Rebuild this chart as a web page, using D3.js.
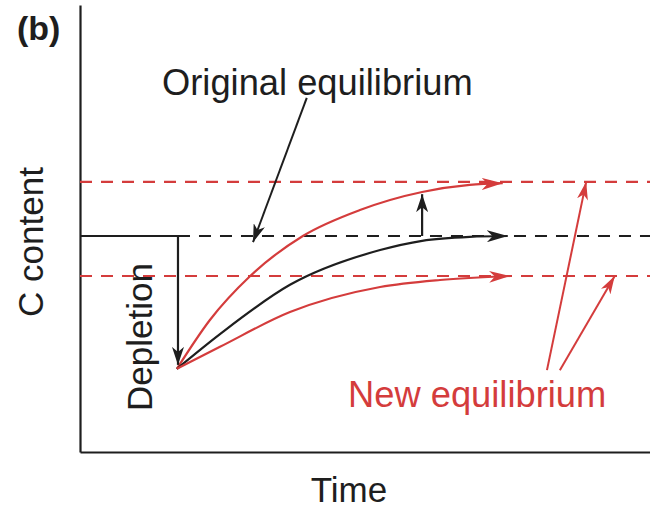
<!DOCTYPE html>
<html><head><meta charset="utf-8">
<script src="https://cdn.jsdelivr.net/npm/d3@7"></script>
<style>html,body{margin:0;padding:0;background:#fff}svg{display:block}text{font-family:"Liberation Sans",Arial,Helvetica,sans-serif}</style>
</head><body><svg id="c" width="650" height="508"></svg>
<script>
// ---- data (time, C content), conceptual units ----
const levels = [
  {name:"newHigh", c:61.4, color:"red"},
  {name:"original", c:49.1, color:"black"},
  {name:"newLow", c:40.0, color:"red"}
];
const disturbanceTime = 17.5;
const depletedC = 18.9;
const preDisturbance = [[0,49.1],[17.5,49.1]];
const curveHigh = [[17.3,18.9],[23.2,30.0],[30.4,40.0],[39.8,49.1],[50.0,55.0],[61.1,59.1],[69.6,60.7],[75.5,61.1]];
const curveOrig = [[17.3,18.9],[25.0,26.8],[37.5,38.0],[53.6,45.9],[61.1,48.0],[69.6,48.9],[76.4,49.1]];
const curveLow  = [[17.3,18.9],[25.0,23.9],[37.5,31.8],[53.6,37.5],[64.3,39.1],[76.8,40.0]];
const depletionArrow = [[17.5,49.1],[17.5,19.8]];
const gainArrow = [[61.1,49.1],[61.1,58.6]];
const origLabelArrow = [[40.5,80.5],[30.9,47.7]];
const newLabelArrows = [ [[83.4,18.6],[90.4,61.4]], [[85.7,18.6],[95.5,40.0]] ];
const labels = {panel:"(b)", y:"C content", x:"Time", depletion:"Depletion", orig:"Original equilibrium", neu:"New equilibrium"};

const RED = "#d43c3c", BLK = "#1e1e1e";
const colorOf = k => k === "red" ? RED : BLK;

const svg = d3.select("#c");
const x = d3.scaleLinear().domain([0,101.8]).range([80,650]);
const y = d3.scaleLinear().domain([0,101.6]).range([452,5]);

// markers
const defs = svg.append("defs");
function marker(id, color, len, wid){
  defs.append("marker").attr("id",id).attr("markerUnits","userSpaceOnUse")
    .attr("viewBox",`${-len} ${-wid/2} ${len+1} ${wid}`)
    .attr("refX",0).attr("refY",0).attr("markerWidth",len+1).attr("markerHeight",wid)
    .attr("orient","auto")
    .append("path").attr("d",`M0,0L${-len},${-wid/2}L${-len*0.72},0L${-len},${wid/2}Z`).attr("fill",color);
}
marker("aB", BLK, 21, 12);
marker("aR", RED, 21, 12);
marker("aBs", BLK, 18, 12);
marker("aRs", RED, 18, 11);

// axes (no ticks)
svg.append("g").attr("transform",`translate(0,${y(0)})`)
  .call(d3.axisBottom(x).tickValues([]).tickSizeOuter(0))
  .select(".domain").attr("stroke",BLK).attr("stroke-width",2.2);
svg.append("g").attr("transform",`translate(${x(0)},0)`)
  .call(d3.axisLeft(y).tickValues([]).tickSizeOuter(0))
  .select(".domain").attr("stroke",BLK).attr("stroke-width",2.2);

// equilibrium dashed levels
svg.append("g").selectAll("line").data(levels).join("line")
  .attr("x1", d => d.name==="original" ? x(disturbanceTime) : x(0))
  .attr("x2", x(101.8))
  .attr("y1", d => y(d.c)).attr("y2", d => y(d.c))
  .attr("stroke", d => colorOf(d.color)).attr("stroke-width",2.2)
  .attr("stroke-dasharray","12,9");

const line = d3.line().x(d=>x(d[0])).y(d=>y(d[1]));
const smooth = d3.line().x(d=>x(d[0])).y(d=>y(d[1])).curve(d3.curveMonotoneX);

// pre-disturbance solid line
svg.append("path").attr("d", line(preDisturbance)).attr("fill","none").attr("stroke",BLK).attr("stroke-width",2.2);

// recovery curves
[[curveHigh,RED,"aR"],[curveOrig,BLK,"aB"],[curveLow,RED,"aR"]].forEach(([data,col,m])=>{
  svg.append("path").attr("d", smooth(data)).attr("fill","none")
    .attr("stroke",col).attr("stroke-width",2.2).attr("marker-end",`url(#${m})`);
});

// depletion and gain arrows
svg.append("path").attr("d", line(depletionArrow)).attr("stroke",BLK).attr("stroke-width",2.2).attr("marker-end","url(#aBs)");
svg.append("path").attr("d", line(gainArrow)).attr("stroke",BLK).attr("stroke-width",2.2).attr("marker-end","url(#aBs)");

// label arrows
svg.append("path").attr("d", line(origLabelArrow)).attr("stroke",BLK).attr("stroke-width",2).attr("marker-end","url(#aBs)");
newLabelArrows.forEach(a=>{
  svg.append("path").attr("d", line(a)).attr("stroke",RED).attr("stroke-width",2).attr("marker-end","url(#aRs)");
});

// texts
svg.append("text").attr("x",17).attr("y",40).attr("font-size",34).attr("font-weight","bold").attr("fill",BLK).text(labels.panel);
svg.append("text").attr("transform","translate(43,242) rotate(-90)").attr("text-anchor","middle").attr("font-size",35).attr("fill",BLK).text(labels.y);
svg.append("text").attr("x",349).attr("y",502).attr("text-anchor","middle").attr("font-size",35).attr("fill",BLK).text(labels.x);
svg.append("text").attr("transform","translate(152,337) rotate(-90)").attr("text-anchor","middle").attr("font-size",35).attr("fill",BLK).text(labels.depletion);
svg.append("text").attr("x",162).attr("y",95).attr("font-size",36.3).attr("fill",BLK).text(labels.orig);
svg.append("text").attr("x",348).attr("y",407).attr("font-size",36.3).attr("fill",RED).text(labels.neu);
</script></body></html>
